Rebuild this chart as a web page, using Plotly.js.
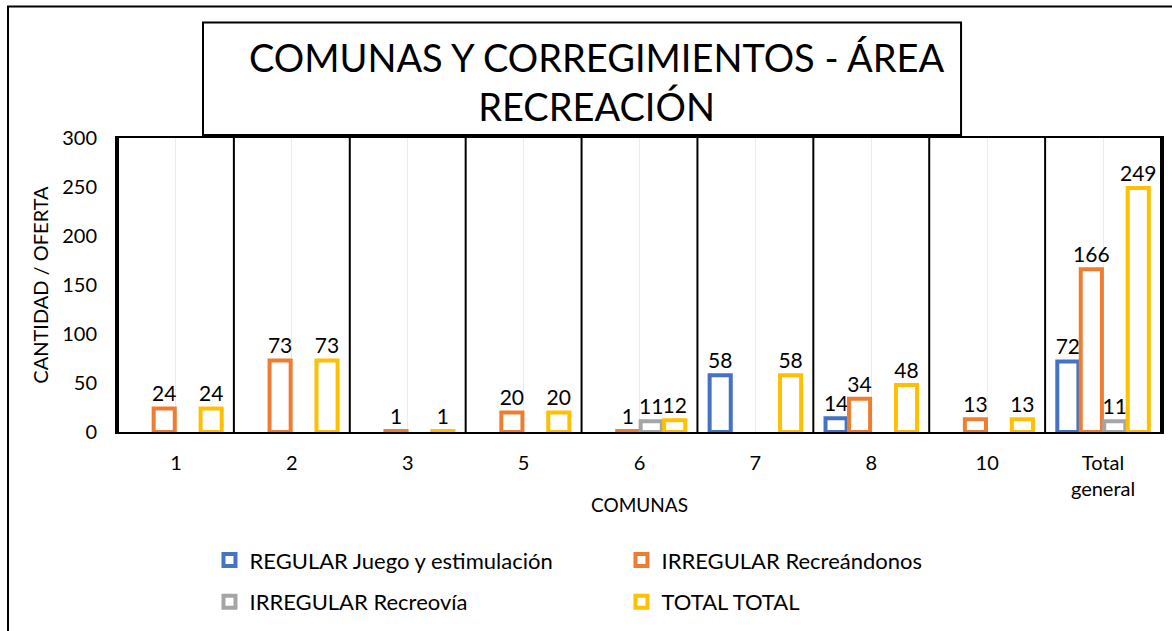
<!DOCTYPE html>
<html>
<head>
<meta charset="utf-8">
<script src="https://cdn.plot.ly/plotly-3.0.1.min.js"></script>
<style>
  body { margin: 0; background: #fff; }
  #plotly-div { width: 1172px; height: 631px; }
</style>
</head>
<body>
<div id="plotly-div"></div>
<script>
// data
var comunas = ['1', '2', '3', '5', '6', '7', '8', '10', 'Total<br>general'];
var regularJuego = [null, null, null, null, null, 58, 14, null, 72];
var irregularRecreandonos = [24, 73, 1, 20, 1, null, 34, 13, 166];
var irregularRecreovia = [null, null, null, null, 11, null, null, null, 11];
var totalTotal = [24, 73, 1, 20, 12, 58, 48, 13, 249];

var seriesNames = ['REGULAR Juego y estimulación', 'IRREGULAR Recreándonos', 'IRREGULAR Recreovía', 'TOTAL TOTAL'];
var seriesColors = ['#4472C4', '#ED7D31', '#A5A5A5', '#FFC000'];
var seriesValues = [regularJuego, irregularRecreandonos, irregularRecreovia, totalTotal];
var seriesLegend = ['legend', 'legend', 'legend2', 'legend2'];

var font = 'Lato, Carlito, "Open Sans", sans-serif';

var dataPlot = seriesValues.map(function (vals, i) {
  return {
    type: 'bar',
    name: seriesNames[i],
    legend: seriesLegend[i],
    x: comunas,
    y: vals,
    marker: { color: '#ffffff', line: { color: seriesColors[i], width: 4 } },
    text: vals.map(function (v) { return v == null ? '' : String(v); }),
    textposition: 'outside',
    constraintext: 'none',
    cliponaxis: false,
    textfont: { family: font, size: 21, color: '#000' },
    hoverinfo: 'x+y+name'
  };
});

// black separators between categories
var shapes = [];
for (var k = 0; k <= comunas.length; k++) {
  shapes.push({
    type: 'line', xref: 'x', yref: 'paper',
    x0: k - 0.5, x1: k - 0.5, y0: 0, y1: 1,
    line: { color: '#000', width: 2 }
  });
}
// title box
shapes.push({
  type: 'rect', xref: 'paper', yref: 'paper',
  x0: 0.0823, x1: 0.8077, y0: 1.0102, y1: 1.393,
  line: { color: '#000', width: 2 }, fillcolor: 'rgba(0,0,0,0)'
});
// outer chart border
shapes.push({
  type: 'rect', xref: 'paper', yref: 'paper',
  x0: -0.1043, x1: 1.2, y0: -0.9, y1: 1.4475,
  line: { color: '#000', width: 2 }, fillcolor: 'rgba(0,0,0,0)'
});

var legendBase = {
  orientation: 'h',
  x: 0.0885, xanchor: 'left', yanchor: 'middle',
  entrywidth: 367, entrywidthmode: 'pixels',
  font: { family: font, size: 22, color: '#000' },
  itemwidth: 30
};

var layout = {
  width: 1172,
  height: 631,
  margin: { l: 117, r: 10, t: 138, b: 198 },
  paper_bgcolor: '#fff',
  plot_bgcolor: '#fff',
  font: { family: font, size: 20, color: '#000' },
  title: {
    text: 'COMUNAS Y CORREGIMIENTOS - ÁREA<br>RECREACIÓN',
    font: { family: font, size: 38, color: '#000' },
    xref: 'container', yref: 'container',
    x: 0.509, y: 0.886, xanchor: 'center', yanchor: 'middle'
  },
  barmode: 'group',
  bargap: 0.19,
  bargroupgap: 0.1,
  showlegend: true,
  legend: Object.assign({}, legendBase, { y: -0.431 }),
  legend2: Object.assign({}, legendBase, { y: -0.573 }),
  xaxis: {
    type: 'category',
    showgrid: true,
    gridcolor: '#ebebeb',
    gridwidth: 1,
    showline: true,
    linecolor: '#000',
    linewidth: 2,
    mirror: true,
    ticks: '',
    ticklabelstandoff: 12,
    tickfont: { family: font, size: 20, color: '#000' },
    title: { text: 'COMUNAS', font: { family: font, size: 19, color: '#000' }, standoff: 0 }
  },
  yaxis: {
    range: [0, 300],
    dtick: 50,
    showgrid: false,
    zeroline: false,
    showline: true,
    linecolor: '#000',
    linewidth: 2,
    mirror: true,
    ticks: '',
    ticklabelstandoff: 14,
    tickfont: { family: font, size: 20, color: '#000' },
    title: { text: 'CANTIDAD / OFERTA', font: { family: font, size: 20, color: '#000' }, standoff: 8 }
  },
  shapes: shapes
};

Plotly.newPlot('plotly-div', dataPlot, layout, { displayModeBar: false });
</script>
</body>
</html>
